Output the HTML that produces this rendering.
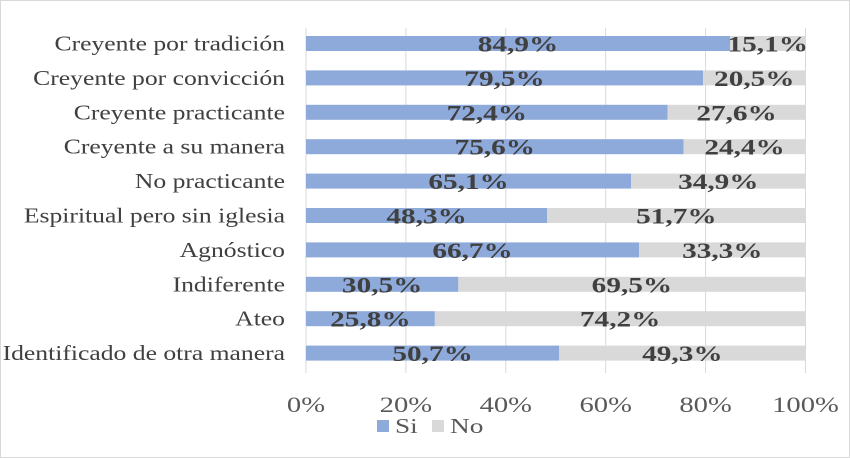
<!DOCTYPE html>
<html><head><meta charset="utf-8"><style>
body{margin:0;background:#fff}
svg{display:block;font-family:"Liberation Serif",serif}
</style></head><body>
<svg id="chart" width="850" height="458">
<rect x="0.5" y="0.5" width="849" height="457" fill="#fff" stroke="#d9d9d9"/>
<g id="grid"></g><g id="bars"></g><g id="labels"></g>
<g>
<rect x="377" y="420" width="12" height="12" fill="#8eaadb"/>
<text class="st" data-f="1.3" x="395" y="433" font-size="21" fill="#595959">Si</text>
<rect x="432" y="420" width="12" height="12" fill="#d9d9d9"/>
<text class="st" data-f="1.3" x="450" y="433" font-size="21" fill="#595959">No</text>
</g>
</svg>
<script>
const categories=["Creyente por tradición","Creyente por convicción","Creyente practicante","Creyente a su manera","No practicante","Espiritual pero sin iglesia","Agnóstico","Indiferente","Ateo","Identificado de otra manera"];
const siValues=[84.9,79.5,72.4,75.6,65.1,48.3,66.7,30.5,25.8,50.7];
const noValues=[15.1,20.5,27.6,24.4,34.9,51.7,33.3,69.5,74.2,49.3];
const ticks=[0,20,40,60,80,100];
const NS="http://www.w3.org/2000/svg";
const x0=306,x1=805.5,yTop=43.5,step=34.4,bh=15;
const xs=v=>x0+(x1-x0)*v/100;
const yc=i=>yTop+i*step;
function mk(p,t,a){const e=document.createElementNS(NS,t);for(const k in a)e.setAttribute(k,a[k]);p.appendChild(e);return e;}
function stretch(el,f){const w=el.getComputedTextLength();el.setAttribute('textLength',w*f);el.setAttribute('lengthAdjust','spacingAndGlyphs');}
const grid=document.getElementById('grid'),bars=document.getElementById('bars'),labels=document.getElementById('labels');
ticks.forEach(t=>{
 const l=mk(grid,'line',{x1:xs(t),x2:xs(t),y1:28,y2:373,stroke:'#d9d9d9','stroke-width':1});
 
 
 const tx=mk(grid,'text',{x:xs(t),y:412,'font-size':22,fill:'#595959','text-anchor':'middle'});
 tx.textContent=t+'%';
 
 
 stretch(tx,1.3);
});
const fmt=v=>v.toFixed(1).replace('.',',')+'%';
categories.forEach((c,i)=>{
 const y=yc(i);
 const cl=mk(labels,'text',{x:285,y:y+7,'font-size':21,fill:'#404040','text-anchor':'end'});
 cl.textContent=c;
 
 
 stretch(cl,1.22);
 const s=mk(bars,'rect',{x:xs(0),y:y-bh/2,width:xs(siValues[i])-xs(0),height:bh,fill:'#8eaadb'});
 
 
 const n=mk(bars,'rect',{x:xs(siValues[i]),y:y-bh/2,width:xs(siValues[i]+noValues[i])-xs(siValues[i]),height:bh,fill:'#d9d9d9'});
 
 
 const sl=mk(labels,'text',{x:xs(siValues[i]/2),y:y+8,'font-size':22,'font-weight':'bold',fill:'#404040','text-anchor':'middle'});
 sl.textContent=fmt(siValues[i]);
 
 
 stretch(sl,1.33);
 const nl=mk(labels,'text',{x:xs(siValues[i]+noValues[i]/2),y:y+8,'font-size':22,'font-weight':'bold',fill:'#404040','text-anchor':'middle'});
 nl.textContent=fmt(noValues[i]);
 
 
 stretch(nl,1.33);
});
document.querySelectorAll('.st').forEach(e=>stretch(e,+e.dataset.f));
</script>
</body></html>
